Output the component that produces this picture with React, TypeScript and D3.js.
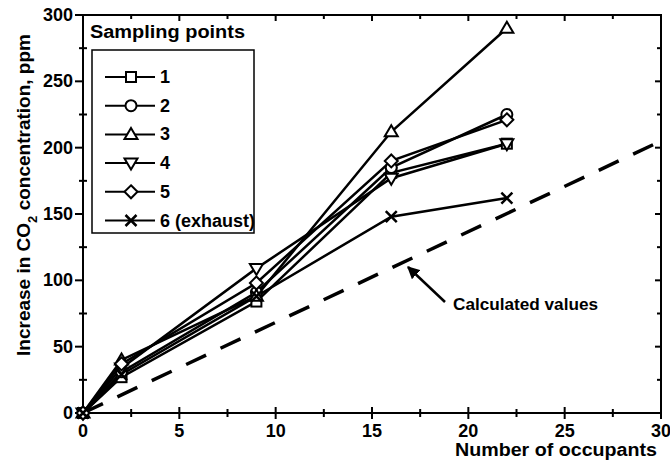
import { useEffect, useRef } from "react";
import * as d3 from "d3";

// occupants (x) and CO2 increase (ppm) for each sampling point
const occupants = [0, 2, 9, 16, 22];
const point1 = [0, 27, 84, 181, 203];
const point2 = [0, 31, 91, 185, 225];
const point3 = [0, 40, 88, 212, 290];
const point4 = [0, 34, 109, 177, 203];
const point5 = [0, 37, 98, 190, 221];
const point6 = [0, 29, 88, 148, 162];
const seriesLabels = ["1", "2", "3", "4", "5", "6 (exhaust)"];
const seriesShapes = ["square", "circle", "up", "down", "diamond", "cross"];
const calcX = [0, 30];
const calcY = [0, 205];
const xTicks = [0, 5, 10, 15, 20, 25, 30];
const yTicks = [0, 50, 100, 150, 200, 250, 300];

const FONT = "'Liberation Sans', Arial, sans-serif";

function marker(g: any, shape: string, cx: number, cy: number) {
  const r = 5.5;
  const common = (sel: any) =>
    sel.attr("fill", "#fff").attr("stroke", "#000").attr("stroke-width", 2);
  if (shape === "square") {
    common(g.append("rect").attr("x", cx - r + 0.5).attr("y", cy - r + 0.5).attr("width", 2 * r - 1).attr("height", 2 * r - 1));
  } else if (shape === "circle") {
    common(g.append("circle").attr("cx", cx).attr("cy", cy).attr("r", r));
  } else if (shape === "up") {
    common(g.append("path").attr("d", `M${cx},${cy - r - 1}L${cx + r + 1},${cy + r - 1}L${cx - r - 1},${cy + r - 1}Z`));
  } else if (shape === "down") {
    common(g.append("path").attr("d", `M${cx},${cy + r + 1}L${cx + r + 1},${cy - r + 1}L${cx - r - 1},${cy - r + 1}Z`));
  } else if (shape === "diamond") {
    common(g.append("path").attr("d", `M${cx},${cy - r - 1}L${cx + r + 1},${cy}L${cx},${cy + r + 1}L${cx - r - 1},${cy}Z`));
  } else {
    g.append("path")
      .attr("d", `M${cx - r},${cy - r}L${cx + r},${cy + r}M${cx - r},${cy + r}L${cx + r},${cy - r}`)
      .attr("stroke", "#000").attr("stroke-width", 2.5).attr("fill", "none");
  }
}

const App = () => {
  const svgRef = useRef<SVGSVGElement>(null);

  useEffect(() => {
    const svg = d3.select(svgRef.current);
    svg.selectAll("*").remove();

    const width = 670;
    const height = 461;
    const margin = { top: 15, right: 9, bottom: 48, left: 83 };
    const x = d3.scaleLinear().domain([0, 30]).range([margin.left, width - margin.right]);
    const y = d3.scaleLinear().domain([0, 300]).range([height - margin.bottom, margin.top]);

    svg.attr("width", width).attr("height", height).style("font-family", FONT);

    // frame
    svg.append("rect")
      .attr("x", x(0)).attr("y", y(300))
      .attr("width", x(30) - x(0)).attr("height", y(0) - y(300))
      .attr("fill", "none").attr("stroke", "#000").attr("stroke-width", 2);

    // ticks: bottom crossing, top/right inward, left outward
    const xMinor = d3.range(2.5, 30, 5);
    const tk = svg.append("g").attr("stroke", "#000").attr("stroke-width", 2);
    xTicks.forEach((t) => {
      tk.append("line").attr("x1", x(t)).attr("x2", x(t)).attr("y1", y(0) - 6).attr("y2", y(0) + 6);
      tk.append("line").attr("x1", x(t)).attr("x2", x(t)).attr("y1", y(300)).attr("y2", y(300) + 6);
    });
    xMinor.forEach((t) => {
      tk.append("line").attr("x1", x(t)).attr("x2", x(t)).attr("y1", y(0) - 4).attr("y2", y(0) + 4);
      tk.append("line").attr("x1", x(t)).attr("x2", x(t)).attr("y1", y(300)).attr("y2", y(300) + 4);
    });
    const yMinor = d3.range(25, 300, 50);
    yTicks.forEach((t) => {
      tk.append("line").attr("x1", x(0) - 8).attr("x2", x(0)).attr("y1", y(t)).attr("y2", y(t));
      tk.append("line").attr("x1", x(30) - 6).attr("x2", x(30)).attr("y1", y(t)).attr("y2", y(t));
    });
    yMinor.forEach((t) => {
      tk.append("line").attr("x1", x(0) - 4).attr("x2", x(0) + 4).attr("y1", y(t)).attr("y2", y(t));
      tk.append("line").attr("x1", x(30) - 4).attr("x2", x(30)).attr("y1", y(t)).attr("y2", y(t));
    });

    // tick labels
    svg.append("g").selectAll("text").data(xTicks).join("text")
      .attr("x", (d) => x(d)).attr("y", y(0) + 24)
      .attr("text-anchor", "middle").attr("font-size", 18).attr("font-weight", "bold")
      .text((d) => d);
    svg.append("g").selectAll("text").data(yTicks).join("text")
      .attr("x", x(0) - 10).attr("y", (d) => y(d) + 6)
      .attr("text-anchor", "end").attr("font-size", 18).attr("font-weight", "bold")
      .text((d) => d);

    // axis titles
    svg.append("text")
      .attr("x", 556).attr("y", 456).attr("text-anchor", "middle")
      .attr("font-size", 18).attr("font-weight", "bold")
      .attr("textLength", 202).attr("lengthAdjust", "spacingAndGlyphs")
      .text("Number of occupants");
    const yl = svg.append("text")
      .attr("transform", `translate(30,${195}) rotate(-90)`)
      .attr("text-anchor", "middle").attr("font-size", 19).attr("font-weight", "bold");
    yl.append("tspan").text("Increase in CO");
    yl.append("tspan").attr("font-size", 13).attr("dy", 7).text("2");
    yl.append("tspan").attr("dy", -7).text(" concentration, ppm");

    // calculated dashed line
    const calc = calcX.map((d, i) => [d, calcY[i]] as [number, number]);
    svg.append("path")
      .attr("d", d3.line().x((d) => x(d[0])).y((d) => y(d[1]))(calc))
      .attr("fill", "none").attr("stroke", "#000").attr("stroke-width", 3.5)
      .attr("stroke-dasharray", "22,16");

    // series
    const all = [point1, point2, point3, point4, point5, point6];
    const line = d3.line<number>().x((_, i) => x(occupants[i])).y((d) => y(d));
    all.forEach((vals) => {
      svg.append("path").attr("d", line(vals)).attr("fill", "none")
        .attr("stroke", "#000").attr("stroke-width", 2.5);
    });
    all.forEach((vals, s) => {
      const g = svg.append("g");
      vals.forEach((v, i) => marker(g, seriesShapes[s], x(occupants[i]), y(v)));
    });

    // annotation
    const defs = svg.append("defs");
    defs.append("marker").attr("id", "arr").attr("viewBox", "0 0 10 10")
      .attr("refX", 9).attr("refY", 5).attr("markerWidth", 5).attr("markerHeight", 5)
      .attr("orient", "auto")
      .append("path").attr("d", "M0,0L10,5L0,10Z").attr("fill", "#000");
    svg.append("line")
      .attr("x1", 445).attr("y1", 302).attr("x2", 408).attr("y2", 267)
      .attr("stroke", "#000").attr("stroke-width", 2.5).attr("marker-end", "url(#arr)");
    svg.append("text")
      .attr("x", 453).attr("y", 310).attr("font-size", 16).attr("font-weight", "bold")
      .attr("textLength", 145).attr("lengthAdjust", "spacingAndGlyphs")
      .text("Calculated values");

    // legend
    svg.append("text")
      .attr("x", 90).attr("y", 38).attr("font-size", 18).attr("font-weight", "bold")
      .attr("textLength", 155).attr("lengthAdjust", "spacingAndGlyphs")
      .text("Sampling points");
    svg.append("rect").attr("x", 92).attr("y", 50).attr("width", 162).attr("height", 183)
      .attr("fill", "#fff").attr("stroke", "#000").attr("stroke-width", 1.5);
    const lg = svg.append("g");
    seriesLabels.forEach((lab, i) => {
      const cy = 77 + i * 28.7;
      lg.append("line").attr("x1", 105).attr("x2", 155).attr("y1", cy).attr("y2", cy)
        .attr("stroke", "#000").attr("stroke-width", 2);
      marker(lg, seriesShapes[i], 131, cy);
      lg.append("text").attr("x", 160).attr("y", cy + 6)
        .attr("font-size", 18).attr("font-weight", "bold").text(lab);
    });
  }, []);

  return <svg ref={svgRef} style={{ display: "block", position: "absolute", left: 0, top: 0 }} />;
};

export default App;
